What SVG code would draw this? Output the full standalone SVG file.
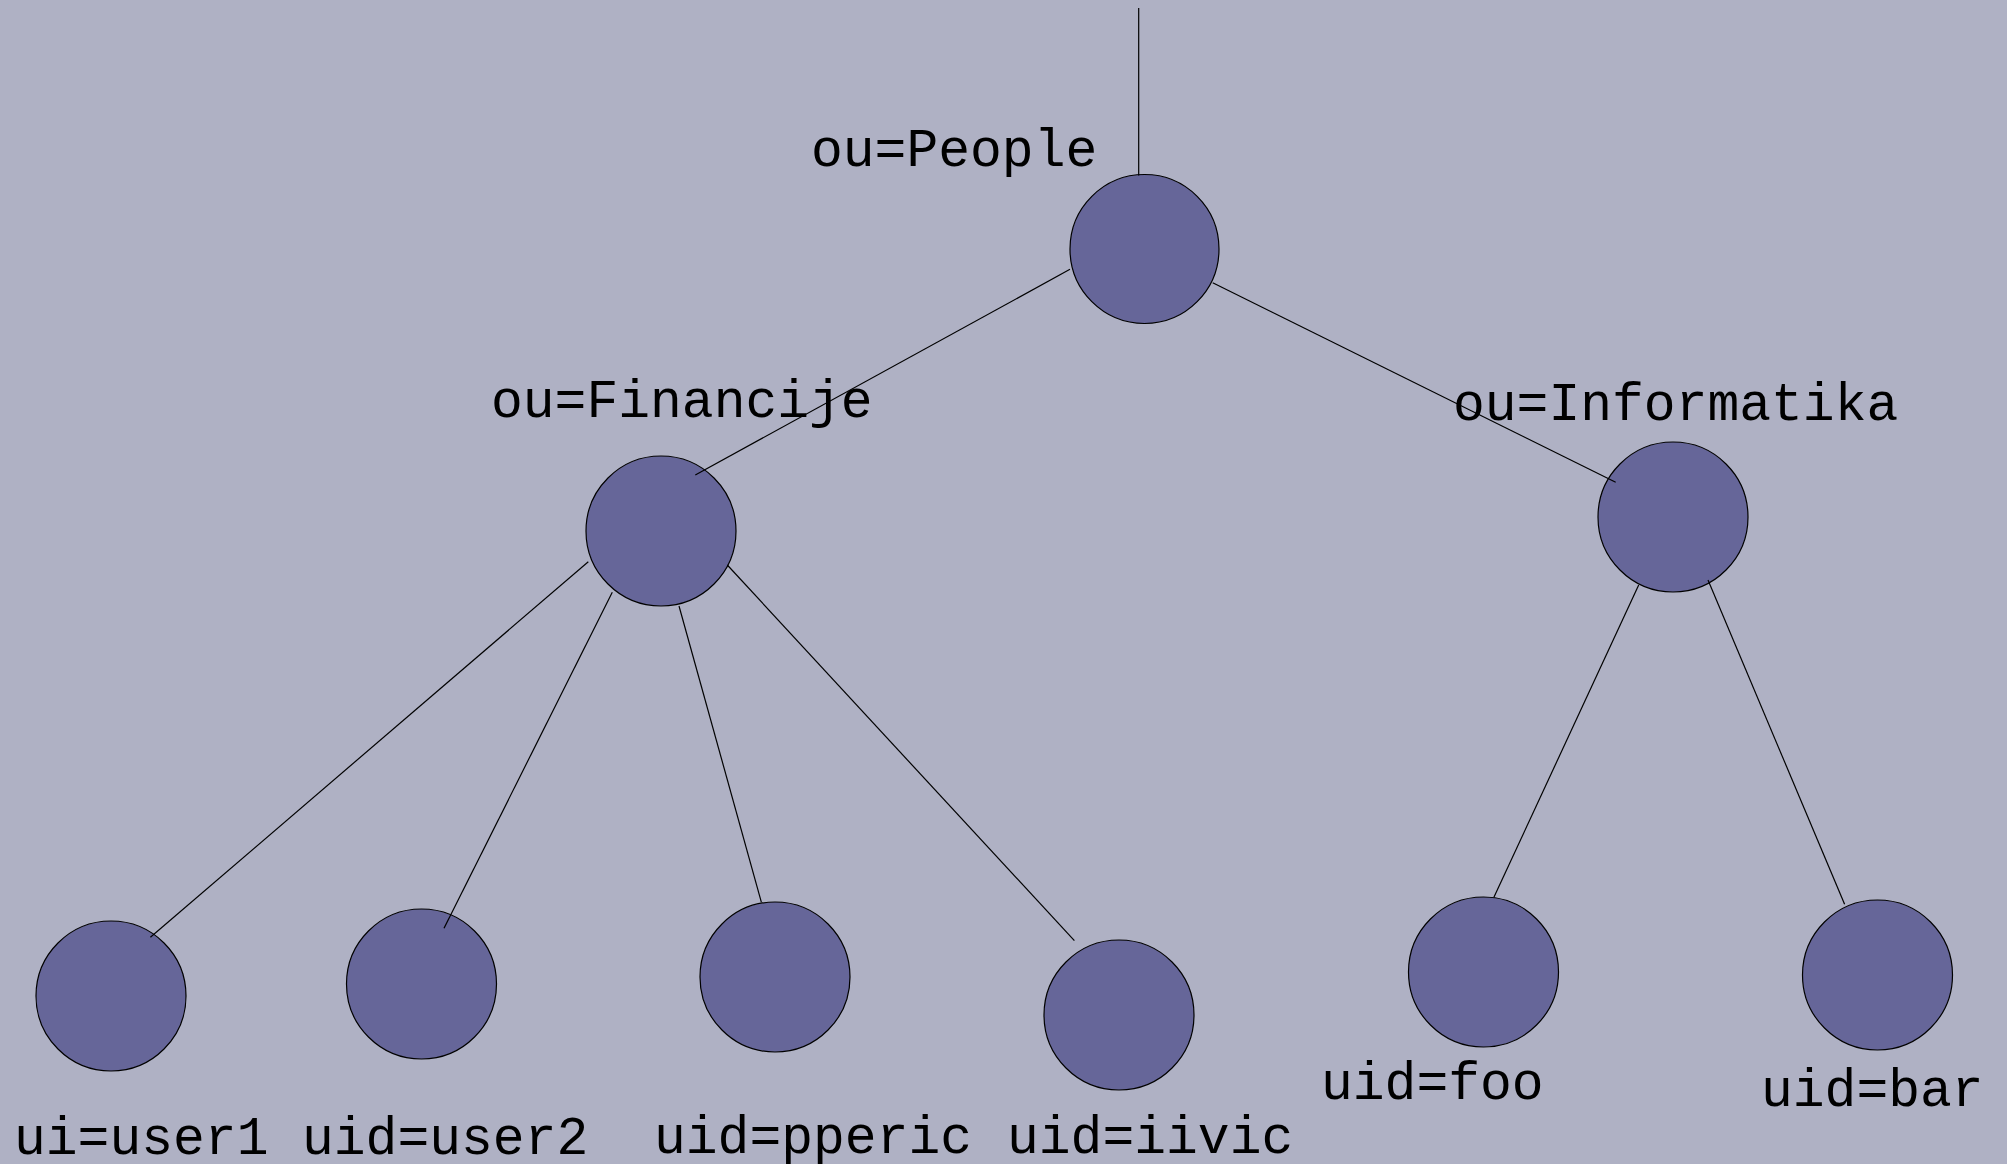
<svg xmlns="http://www.w3.org/2000/svg" width="2007" height="1164" viewBox="0 0 2007 1164">
<style>
.bg{fill:#afb1c4}
.node circle{fill:#666699;stroke:#000;stroke-width:1.2}
.lbl{font-family:"Liberation Mono","Courier New",monospace;font-size:53px;fill:#000}
.edges line{stroke:#000;stroke-width:1.2}
</style>
<rect class="bg" x="0" y="0" width="2007" height="1164"/>
<g id="people" class="node"><circle cx="1144.5" cy="249" r="74.5"/><text class="lbl" x="811" y="166">ou=People</text></g>
<g id="financije" class="node"><circle cx="661" cy="531" r="75"/><text class="lbl" x="491" y="417">ou=Financije</text></g>
<g id="informatika" class="node"><circle cx="1673" cy="517" r="75"/><text class="lbl" x="1453" y="420">ou=Informatika</text></g>
<g id="user1" class="node"><circle cx="111" cy="996" r="75"/><text class="lbl" x="14" y="1154">ui=user1</text></g>
<g id="user2" class="node"><circle cx="421.5" cy="984" r="75"/><text class="lbl" x="302" y="1154">uid=user2</text></g>
<g id="pperic" class="node"><circle cx="775" cy="977" r="75"/><text class="lbl" x="654" y="1153">uid=pperic</text></g>
<g id="iivic" class="node"><circle cx="1119" cy="1015" r="75"/><text class="lbl" x="1007" y="1153">uid=iivic</text></g>
<g id="foo" class="node"><circle cx="1483.5" cy="972" r="75"/><text class="lbl" x="1321" y="1099">uid=foo</text></g>
<g id="bar" class="node"><circle cx="1877.5" cy="975" r="75"/><text class="lbl" x="1761" y="1106">uid=bar</text></g>
<g id="connectors" class="edges">
<line x1="1138.7" y1="8" x2="1138.7" y2="175.5"/>
<line x1="1070" y1="269.3" x2="695.3" y2="475"/>
<line x1="1212.7" y1="282.7" x2="1615.7" y2="482.3"/>
<line x1="588.3" y1="561.7" x2="150.4" y2="937.3"/>
<line x1="612.3" y1="592.3" x2="444" y2="928.3"/>
<line x1="679" y1="606" x2="761.4" y2="902.3"/>
<line x1="727.3" y1="565" x2="1074.4" y2="940.7"/>
<line x1="1638.7" y1="585" x2="1493.9" y2="897.3"/>
<line x1="1708" y1="580" x2="1844.6" y2="904.3"/>
</g>
</svg>
